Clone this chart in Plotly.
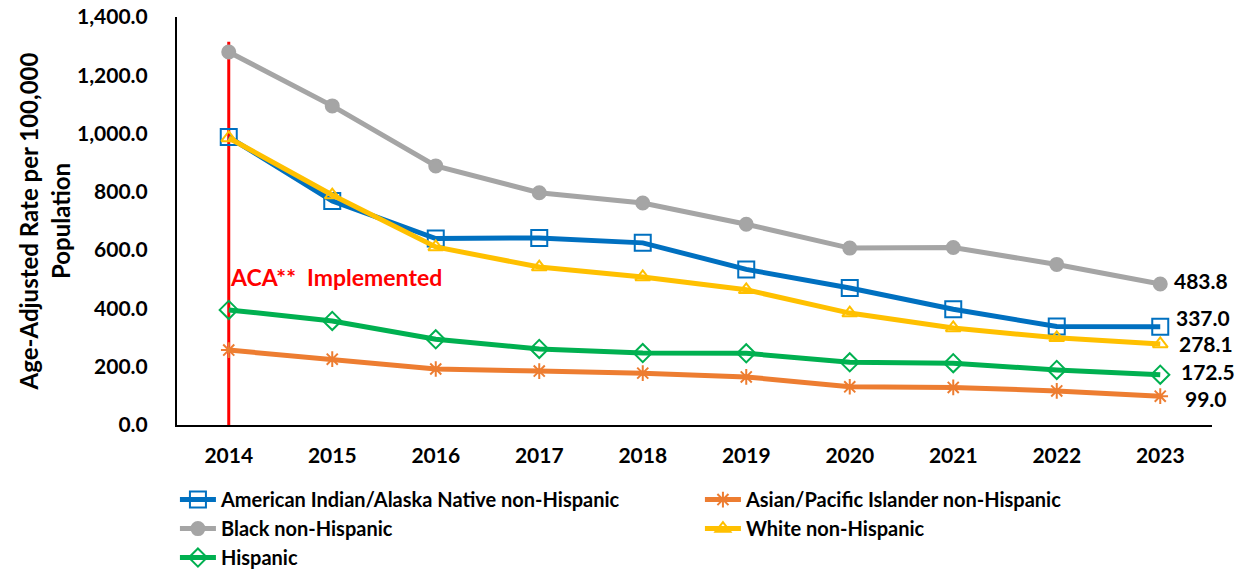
import plotly.graph_objects as go

years = [2014, 2015, 2016, 2017, 2018, 2019, 2020, 2021, 2022, 2023]

aian = [988, 769, 640, 642, 625, 534, 470, 397, 338, 337.0]
asian = [257, 226, 192, 185, 178, 165, 131, 129, 117, 99.0]
black = [1280, 1095, 889, 797, 762, 689, 607, 609, 551, 483.8]
white = [985, 789, 611, 542, 508, 464, 384, 333, 299, 278.1]
hispanic = [395, 357, 294, 261, 247, 246, 215, 212, 189, 172.5]

series_names = [
    "American Indian/Alaska Native non-Hispanic",
    "Asian/Pacific Islander non-Hispanic",
    "Black non-Hispanic",
    "White non-Hispanic",
    "Hispanic",
]
series_values = [aian, asian, black, white, hispanic]
colors = ["#0070C0", "#ED7D31", "#A5A5A5", "#FFC000", "#00B050"]
symbols = ["square-open", "asterisk-open", "circle", "triangle-up-open", "diamond-open"]
msizes = [16, 13, 13, 13, 14]

end_labels = ["337.0", "99.0", "483.8", "278.1", "172.5"]
label_yshift = [9, -2, 4, 0, 3]
label_xshift = [14, 23, 12, 17, 19]

aca_text = "ACA**  Implemented"
aca_top = 1315
aca_label_y = 508

FONT = "Lato"

fig = go.Figure()

draw_order = [2, 4, 1, 0, 3]
for i in draw_order:
    fig.add_trace(go.Scatter(
        x=years, y=series_values[i], name=series_names[i],
        mode="lines+markers",
        line=dict(color=colors[i], width=5),
        marker=dict(symbol=symbols[i], size=msizes[i], color=colors[i],
                    line=dict(color=colors[i], width=2)),
        legendrank=i + 1,
        cliponaxis=False,
    ))

# ACA vertical line
fig.add_shape(type="line", xref="x", yref="y", x0=years[0], x1=years[0], y0=0, y1=aca_top,
              line=dict(color="#FF0000", width=3), layer="below")
fig.add_annotation(x=years[0], y=aca_label_y, xref="x", yref="y", text=aca_text, showarrow=False,
                   xanchor="left", xshift=-1, font=dict(family=FONT, size=23, color="#FF0000", weight="bold"))

for i in range(5):
    fig.add_annotation(x=years[-1], y=series_values[i][-1], text=end_labels[i], showarrow=False,
                       xanchor="left", xshift=label_xshift[i], yshift=label_yshift[i],
                       font=dict(family=FONT, size=21, color="black", weight="bold"))

fig.update_layout(
    width=1243, height=571,
    margin=dict(l=177, r=31, t=17, b=146, autoexpand=False),
    plot_bgcolor="white", paper_bgcolor="white",
    font=dict(family=FONT, size=20, color="black", weight="bold"),
    showlegend=True,
    legend=dict(orientation="h", x=-0.002, y=-0.135, xanchor="left", yanchor="top",
                entrywidth=474, entrywidthmode="pixels",
                font=dict(family=FONT, size=20, color="black", weight="bold"),
                traceorder="normal", itemwidth=36, tracegroupgap=0),
    xaxis=dict(range=[years[0] - 0.5, years[-1] + 0.5], tickmode="array", tickvals=years,
               ticktext=[str(y) for y in years],
               showline=True, linecolor="black", linewidth=2, automargin=False,
               showgrid=False, zeroline=False, ticks="", ticklabelstandoff=11,
               tickfont=dict(family=FONT, size=21, weight="bold")),
    yaxis=dict(range=[0, 1400], dtick=200, tickformat=",.1f", showline=True, linecolor="black",
               linewidth=2, showgrid=False, zeroline=False, ticks="", ticklabelstandoff=23,
               automargin=False, ticklabeloverflow="allow",
               tickfont=dict(family=FONT, size=21, weight="bold"),
               title=dict(text="Age-Adjusted Rate per 100,000<br>Population", standoff=0,
                          font=dict(family=FONT, size=24, weight="bold"))),
)

fig.write_html("out.html", config={"displayModeBar": False},
               post_script="document.body.style.margin='0px';")
